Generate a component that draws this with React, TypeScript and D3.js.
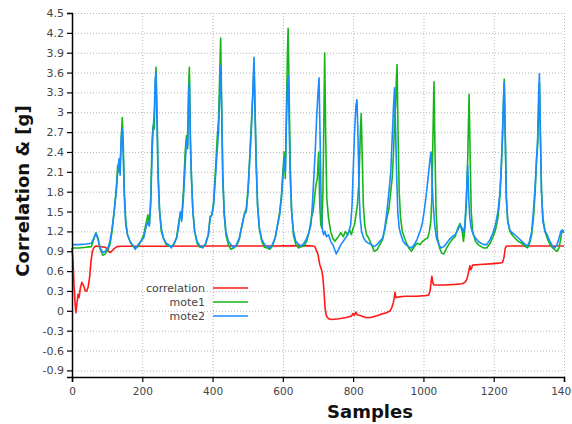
// Correlation between two motes' acceleration, drawn with d3 in a ref'd svg
import React, { useRef, useEffect } from 'react';
import * as d3 from 'd3';

// y tick labels (shown exactly as in the chart)
const yTicks = ['-0.9', '-0.6', '-0.3', '0', '0.3', '0.6', '0.9', '1.2', '1.5', '1.8', '2.1', '2.4', '2.7', '3', '3.3', '3.6', '3.9', '4.2', '4.5'];
const xTicks = [0, 200, 400, 600, 800, 1000, 1200, 1400];

const seriesNames = ['correlation', 'mote1', 'mote2'];
const seriesColors = ['#ff1a1a', '#19b419', '#1a8cff'];

// [sample, value]
const correlation: [number, number][] = [
  [0, 0.95], [3, 0.75], [6, 0.35], [9, 0.1], [11, -0.03], [14, 0.1], [17, 0.25], [20, 0.2], [24, 0.35],
  [28, 0.43], [33, 0.38], [38, 0.3], [42, 0.3], [46, 0.36], [50, 0.5], [54, 0.75], [58, 0.9], [63, 0.96],
  [68, 0.98], [80, 0.97], [95, 0.96], [100, 0.93], [105, 0.9], [108, 0.88], [113, 0.9], [120, 0.94],
  [128, 0.97], [140, 0.975], [250, 0.975], [400, 0.98], [550, 0.98], [660, 0.985], [688, 0.98],
  [692, 0.96], [700, 0.85], [705, 0.7], [711, 0.6], [714, 0.5], [717, 0.3], [720, 0.05], [724, -0.08],
  [730, -0.12], [740, -0.13], [760, -0.12], [780, -0.1], [795, -0.08], [800, -0.04], [803, -0.07],
  [808, -0.02], [811, -0.06], [820, -0.07], [835, -0.1], [850, -0.1], [870, -0.07], [880, -0.05],
  [895, -0.03], [905, 0.0], [910, 0.05], [914, 0.12], [917, 0.2], [919, 0.28], [922, 0.2], [930, 0.21],
  [950, 0.22], [980, 0.22], [1005, 0.23], [1015, 0.24], [1019, 0.3], [1022, 0.45], [1024, 0.52],
  [1027, 0.42], [1030, 0.39], [1060, 0.39], [1090, 0.4], [1110, 0.41], [1118, 0.43], [1123, 0.47],
  [1127, 0.55], [1130, 0.62], [1132, 0.68], [1135, 0.62], [1140, 0.69], [1160, 0.7], [1190, 0.71],
  [1215, 0.72], [1225, 0.73], [1229, 0.8], [1233, 0.95], [1237, 0.98], [1300, 0.98], [1400, 0.98],
];

const mote1: [number, number][] = [
  [0, 0.95], [20, 0.95], [40, 0.96], [55, 0.97], [62, 1.08], [68, 1.18], [74, 1.1], [80, 0.93], [88, 0.84],
  [95, 0.86], [102, 0.92], [108, 1.0], [114, 1.2], [120, 1.5], [126, 1.85], [130, 2.2], [132, 2.1], [134, 2.25],
  [137, 2.2], [140, 2.6], [143, 2.92], [146, 2.5], [149, 1.8], [153, 1.35], [158, 1.15], [165, 1.05],
  [172, 0.98], [180, 0.95], [188, 0.97], [196, 1.05], [204, 1.15], [210, 1.3], [216, 1.45], [220, 1.3],
  [224, 1.7], [228, 2.6], [231, 2.8], [234, 2.75], [237, 3.4], [239, 3.68], [242, 3.0], [245, 2.1],
  [249, 1.55], [254, 1.2], [260, 1.1], [268, 1.0], [275, 0.98], [283, 0.97], [290, 1.0], [298, 1.12],
  [304, 1.35], [308, 1.45], [312, 1.4], [317, 1.8], [322, 2.4], [326, 2.65], [329, 2.45], [332, 3.4],
  [334, 3.68], [337, 2.6], [340, 2.0], [344, 1.5], [349, 1.2], [356, 1.02], [364, 0.96], [372, 0.97],
  [380, 1.0], [388, 1.15], [393, 1.42], [398, 1.45], [403, 1.65], [408, 2.1], [413, 2.6], [417, 2.9],
  [420, 3.5], [423, 4.12], [426, 3.1], [429, 2.1], [433, 1.45], [438, 1.15], [445, 1.0], [452, 0.93],
  [460, 0.95], [468, 0.98], [476, 1.08], [484, 1.3], [490, 1.45], [496, 1.55], [501, 1.85], [506, 2.35],
  [511, 2.9], [515, 3.3], [518, 3.7], [521, 3.0], [524, 2.3], [528, 1.6], [533, 1.25], [540, 1.05],
  [548, 0.96], [556, 0.95], [563, 0.93], [570, 0.98], [578, 1.1], [585, 1.3], [591, 1.5], [596, 1.75],
  [600, 2.1], [604, 2.4], [607, 2.0], [610, 3.0], [613, 3.9], [615, 4.27], [618, 3.3], [621, 2.2],
  [625, 1.5], [630, 1.15], [637, 1.0], [645, 0.95], [652, 0.97], [660, 0.98], [668, 1.05], [675, 1.2],
  [681, 1.4], [686, 1.5], [690, 1.7], [694, 1.9], [698, 2.0], [702, 2.4], [705, 1.6], [708, 1.3],
  [711, 1.25], [714, 1.8], [717, 3.0], [719, 3.9], [722, 2.6], [725, 1.7], [730, 1.4], [736, 1.2],
  [742, 1.1], [748, 1.05], [752, 1.08], [758, 1.12], [765, 1.18], [772, 1.12], [778, 1.2], [784, 1.15],
  [790, 1.22], [795, 1.15], [800, 1.25], [804, 1.3], [808, 1.45], [812, 1.6], [816, 1.9], [819, 2.4],
  [821, 2.8], [823, 2.98], [826, 2.3], [829, 1.6], [833, 1.3], [838, 1.15], [844, 1.1], [852, 1.0],
  [860, 0.9], [868, 0.92], [876, 1.0], [884, 1.08], [890, 1.22], [896, 1.4], [902, 1.55], [907, 1.8],
  [911, 2.0], [915, 2.4], [918, 2.9], [921, 3.1], [923, 3.5], [925, 3.72], [928, 2.6], [931, 1.8],
  [935, 1.4], [940, 1.2], [946, 1.1], [952, 1.02], [958, 0.95], [966, 0.9], [974, 0.97], [982, 1.02],
  [990, 1.0], [998, 1.05], [1005, 1.08], [1012, 1.1], [1017, 1.2], [1021, 1.35], [1024, 1.7],
  [1027, 2.6], [1030, 3.46], [1033, 2.4], [1036, 1.5], [1040, 1.1], [1046, 0.95], [1052, 0.87],
  [1058, 0.86], [1066, 0.95], [1074, 1.02], [1082, 1.08], [1090, 1.12], [1098, 1.25], [1104, 1.32],
  [1110, 1.2], [1114, 1.05], [1118, 1.25], [1122, 1.6], [1126, 2.3], [1128, 2.8], [1130, 3.27],
  [1133, 2.3], [1136, 1.5], [1140, 1.2], [1148, 1.05], [1156, 1.0], [1164, 0.97], [1172, 0.95],
  [1180, 0.95], [1190, 1.02], [1198, 1.12], [1205, 1.22], [1212, 1.4], [1218, 1.75], [1222, 2.2],
  [1225, 2.6], [1228, 3.2], [1230, 3.5], [1233, 2.6], [1236, 1.7], [1240, 1.35], [1246, 1.2],
  [1252, 1.15], [1260, 1.1], [1270, 1.05], [1280, 1.02], [1290, 0.97], [1296, 0.95], [1302, 1.02],
  [1308, 1.15], [1313, 1.4], [1318, 1.8], [1322, 2.3], [1325, 2.5], [1328, 3.1], [1330, 3.45],
  [1333, 2.6], [1336, 1.8], [1340, 1.4], [1346, 1.2], [1352, 1.1], [1360, 1.0], [1368, 0.95],
  [1374, 0.92], [1380, 0.9], [1386, 0.95], [1391, 1.1], [1395, 1.22], [1400, 1.2],
];

const mote2: [number, number][] = [
  [0, 1.0], [20, 1.0], [40, 1.01], [55, 1.02], [62, 1.1], [68, 1.17], [74, 1.08], [80, 0.95], [88, 0.88],
  [95, 0.9], [102, 0.95], [108, 1.05], [114, 1.25], [120, 1.5], [126, 1.8], [130, 2.1], [134, 2.3],
  [137, 2.05], [140, 2.6], [143, 2.75], [146, 2.3], [149, 1.7], [153, 1.3], [158, 1.15], [165, 1.05],
  [172, 1.0], [180, 0.93], [188, 1.0], [196, 1.05], [204, 1.1], [210, 1.25], [216, 1.35], [220, 1.28],
  [224, 1.6], [228, 2.4], [231, 2.75], [234, 3.0], [237, 3.5], [239, 3.6], [242, 2.8], [245, 2.0],
  [249, 1.5], [254, 1.25], [260, 1.1], [268, 1.02], [275, 1.0], [283, 0.95], [290, 1.02], [298, 1.1],
  [304, 1.3], [308, 1.5], [312, 1.35], [317, 1.7], [322, 2.2], [326, 2.6], [329, 2.5], [332, 3.3],
  [334, 3.45], [337, 2.5], [340, 2.0], [344, 1.5], [349, 1.2], [356, 1.05], [364, 0.98], [372, 0.95],
  [380, 1.02], [388, 1.15], [393, 1.4], [398, 1.45], [403, 1.6], [408, 2.0], [413, 2.4], [417, 2.7],
  [420, 3.2], [423, 3.7], [426, 3.0], [429, 2.0], [433, 1.5], [438, 1.2], [445, 1.05], [452, 1.0],
  [460, 0.95], [468, 1.0], [476, 1.1], [484, 1.3], [490, 1.45], [496, 1.5], [501, 1.8], [506, 2.3],
  [511, 2.8], [515, 3.4], [518, 3.83], [521, 3.0], [524, 2.2], [528, 1.6], [533, 1.25], [540, 1.08],
  [548, 1.0], [556, 0.97], [563, 0.95], [570, 1.0], [578, 1.1], [585, 1.3], [591, 1.45], [596, 1.7],
  [600, 2.0], [604, 2.3], [607, 2.1], [610, 2.8], [613, 3.4], [615, 3.55], [618, 2.8], [621, 2.0],
  [625, 1.5], [630, 1.2], [637, 1.05], [645, 1.0], [652, 0.98], [660, 1.02], [668, 1.1], [675, 1.2],
  [680, 1.3], [684, 1.6], [688, 2.0], [692, 2.4], [696, 2.9], [700, 3.3], [703, 3.52], [706, 2.6],
  [709, 1.6], [712, 1.25], [716, 1.15], [720, 1.2], [724, 1.12], [730, 1.15], [736, 1.05], [742, 1.0],
  [748, 0.92], [752, 0.86], [758, 0.92], [765, 1.0], [772, 1.05], [778, 1.1], [785, 1.15], [793, 1.3],
  [797, 1.6], [800, 2.1], [804, 2.7], [808, 3.1], [811, 3.19], [814, 2.6], [817, 1.8], [820, 1.4],
  [824, 1.2], [830, 1.1], [836, 1.05], [844, 1.02], [852, 1.0], [860, 0.97], [868, 1.0], [876, 1.05],
  [884, 1.1], [890, 1.25], [896, 1.5], [902, 1.8], [907, 2.1], [911, 2.6], [915, 3.1], [918, 3.37],
  [921, 2.7], [924, 2.0], [927, 1.5], [931, 1.25], [936, 1.15], [942, 1.05], [950, 1.0], [958, 0.97],
  [966, 0.95], [974, 1.0], [982, 1.08], [990, 1.2], [996, 1.3], [1002, 1.5], [1008, 1.75], [1013, 2.0],
  [1017, 2.2], [1020, 2.35], [1022, 2.4], [1025, 1.9], [1028, 1.6], [1032, 1.3], [1037, 1.1],
  [1044, 1.0], [1050, 0.95], [1058, 0.97], [1066, 1.02], [1074, 1.08], [1082, 1.12], [1090, 1.15],
  [1098, 1.22], [1104, 1.3], [1110, 1.25], [1114, 1.18], [1118, 1.3], [1122, 1.7], [1126, 2.2],
  [1129, 1.7], [1132, 1.4], [1136, 1.25], [1142, 1.15], [1148, 1.1], [1156, 1.05], [1164, 1.02],
  [1172, 1.0], [1180, 1.0], [1190, 1.08], [1198, 1.18], [1205, 1.3], [1212, 1.5], [1218, 1.8],
  [1222, 2.25], [1225, 2.7], [1228, 3.2], [1230, 3.45], [1233, 2.6], [1236, 1.7], [1240, 1.35],
  [1246, 1.22], [1252, 1.18], [1260, 1.15], [1270, 1.1], [1280, 1.05], [1290, 1.0], [1296, 0.98],
  [1302, 1.05], [1308, 1.2], [1313, 1.5], [1318, 1.9], [1322, 2.3], [1325, 2.6], [1328, 3.3],
  [1330, 3.58], [1333, 2.6], [1336, 1.8], [1340, 1.35], [1346, 1.2], [1352, 1.15], [1360, 1.05],
  [1368, 0.97], [1374, 0.95], [1380, 1.0], [1386, 1.1], [1391, 1.2], [1395, 1.22], [1400, 1.18],
];

const allSeries = [correlation, mote1, mote2];

function App() {
  const ref = useRef<SVGSVGElement>(null);
  const width = 572;
  const height = 424;
  const margin = { top: 13, right: 8, bottom: 47, left: 72 };

  useEffect(() => {
    const svg = d3.select(ref.current);
    svg.selectAll('*').remove();

    const x = d3.scaleLinear().domain([0, 1400]).range([margin.left, width - margin.right]);
    const y = d3.scaleLinear().domain([-1, 4.5]).range([height - margin.bottom, margin.top]);

    const font = 'DejaVu Sans, sans-serif';

    // dotted grid
    const grid = svg.append('g').attr('stroke', '#b4b4b4').attr('stroke-dasharray', '1,2');
    grid.selectAll('.hg')
      .data(yTicks)
      .enter()
      .append('line')
      .attr('x1', margin.left).attr('x2', width - margin.right)
      .attr('y1', d => y(+d) + 0.5).attr('y2', d => y(+d) + 0.5);
    grid.selectAll('.vg')
      .data(xTicks.slice(1))
      .enter()
      .append('line')
      .attr('x1', d => x(d) + 0.5).attr('x2', d => x(d) + 0.5)
      .attr('y1', margin.top).attr('y2', height - margin.bottom);

    // series
    const line = d3.line<[number, number]>().x(d => x(d[0])).y(d => y(d[1]));
    allSeries.forEach((s, i) => {
      svg.append('path')
        .datum(s)
        .attr('d', line)
        .attr('fill', 'none')
        .attr('stroke', seriesColors[i])
        .attr('stroke-width', 1.6)
        .attr('stroke-linejoin', 'round');
    });

    // axes
    const yAxis = svg.append('g')
      .attr('transform', `translate(${margin.left},0)`)
      .call(d3.axisLeft(y).tickValues(yTicks.map(Number)).tickFormat((d, i) => yTicks[i]).tickSize(5).tickPadding(3));
    const xAxis = svg.append('g')
      .attr('transform', `translate(0,${height - margin.bottom})`)
      .call(d3.axisBottom(x).tickValues(xTicks).tickFormat(d3.format('d')).tickSize(5).tickPadding(6));
    [xAxis, yAxis].forEach(a => {
      a.select('.domain').attr('stroke', '#000').attr('stroke-width', 1.5);
      a.selectAll('.tick line').attr('stroke', '#000').attr('stroke-width', 1.2);
      a.selectAll('.tick text').attr('fill', '#444').style('font-family', font).style('font-size', '11px');
    });
    xAxis.selectAll('.tick text').style('font-size', '10.5px');

    // axis titles
    svg.append('text')
      .attr('x', 370).attr('y', 418)
      .attr('text-anchor', 'middle')
      .style('font-family', font).style('font-size', '18px').style('font-weight', 'bold')
      .attr('fill', '#111')
      .text('Samples');
    svg.append('text')
      .attr('transform', 'translate(29,191) rotate(-90)')
      .attr('text-anchor', 'middle')
      .style('font-family', font).style('font-size', '18px').style('font-weight', 'bold')
      .attr('fill', '#111')
      .text('Correlation & [g]');

    // legend
    seriesNames.forEach((name, i) => {
      const ly = 288 + i * 14;
      svg.append('text')
        .attr('x', 205).attr('y', ly + 4)
        .attr('text-anchor', 'end')
        .style('font-family', font).style('font-size', '11px')
        .attr('fill', '#444')
        .text(name);
      svg.append('line')
        .attr('x1', 213).attr('x2', 248)
        .attr('y1', ly).attr('y2', ly)
        .attr('stroke', seriesColors[i])
        .attr('stroke-width', 1.6);
    });
  }, []);

  return <svg ref={ref} width={width} height={height} style={{ position: 'absolute', left: 0, top: 0, background: '#fff' }} />;
}

export default App;
